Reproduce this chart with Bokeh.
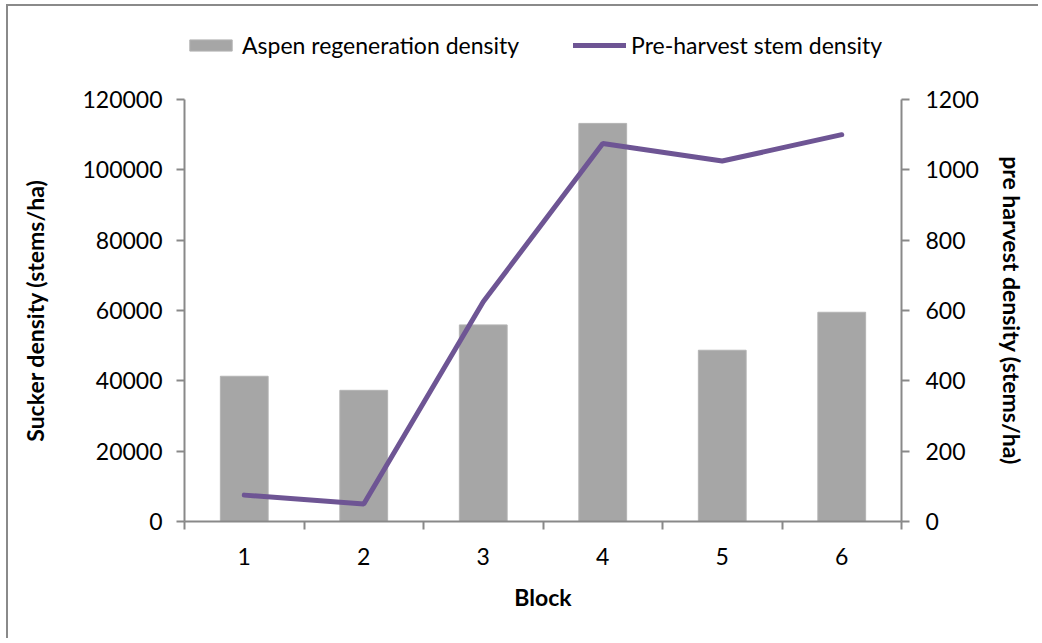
from bokeh.plotting import figure
from bokeh.layouts import column
from bokeh.models import (Range1d, LinearAxis, FixedTicker, NumeralTickFormatter,
                          Legend, LegendItem)
from bokeh.embed import file_html
from bokeh.resources import INLINE

blocks = [1, 2, 3, 4, 5, 6]
block_labels = ["1", "2", "3", "4", "5", "6"]
aspen_density = [41300, 37300, 55900, 113200, 48700, 59500]
preharvest_density = [75, 50, 625, 1075, 1025, 1100]
left_ticks = [0, 20000, 40000, 60000, 80000, 100000, 120000]
right_ticks = [0, 200, 400, 600, 800, 1000, 1200]

FONT = "Lato"
AX = "#898989"
BAR = "#A6A6A6"
BAR_EDGE = "#B4B4B4"
LINE = "#6E5594"
W = 1030
LEG_H = 60
MAIN_H = 572

p = figure(width=W, height=MAIN_H, output_backend="svg", toolbar_location=None,
           x_range=Range1d(0.5, 6.5), y_range=Range1d(0, 120000),
           min_border_left=176, min_border_right=137, min_border_top=33,
           min_border_bottom=117, outline_line_color=None)
p.xgrid.visible = False
p.ygrid.visible = False
p.extra_y_ranges = {"right": Range1d(0, 1200)}

p.vbar(x=blocks, top=aspen_density, width=0.4, fill_color=BAR,
       line_color=BAR_EDGE, line_width=1)
p.line(x=blocks, y=preharvest_density, y_range_name="right",
       line_color=LINE, line_width=5, line_cap="round")

def style_axis(ax):
    ax.axis_line_color = AX
    ax.axis_line_width = 2
    ax.major_tick_line_color = AX
    ax.major_tick_line_width = 2
    ax.major_tick_in = 0
    ax.major_tick_out = 8
    ax.minor_tick_line_color = None
    ax.major_label_text_font = FONT
    ax.major_label_text_font_size = "23px"
    ax.major_label_text_color = "black"
    ax.axis_label_text_font = FONT
    ax.axis_label_text_font_size = "23px"
    ax.axis_label_text_font_style = "bold"
    ax.axis_label_text_color = "black"

# x axis: labels at centres, ticks at block boundaries
xa = p.xaxis[0]
style_axis(xa)
xa.ticker = FixedTicker(ticks=blocks, minor_ticks=[b - 0.5 for b in blocks] + [blocks[-1] + 0.5])
xa.major_label_overrides = {b: l for b, l in zip(blocks, block_labels)}
xa.major_tick_out = 0
xa.minor_tick_line_color = AX
xa.minor_tick_line_width = 2
xa.minor_tick_in = 0
xa.minor_tick_out = 8
xa.major_label_standoff = 18
xa.axis_label = "Block"
xa.axis_label_standoff = 15

ya = p.yaxis[0]
style_axis(ya)
ya.ticker = FixedTicker(ticks=left_ticks)
ya.formatter = NumeralTickFormatter(format="0")
ya.major_label_standoff = 14
ya.axis_label = "Sucker density (stems/ha)"
ya.axis_label_standoff = 30

yr = LinearAxis(y_range_name="right", ticker=FixedTicker(ticks=right_ticks),
                formatter=NumeralTickFormatter(format="0"))
style_axis(yr)
yr.major_label_standoff = 16
yr.axis_label = "pre harvest density (stems/ha)"
yr.axis_label_standoff = 16
p.add_layout(yr, "right")

# Legend strip above the chart: same series, ranges set so the marks fall outside the view
lf = figure(width=W, height=LEG_H, output_backend="svg", toolbar_location=None,
            x_range=Range1d(0.5, 6.5), y_range=Range1d(1e9, 2e9), min_border=0,
            outline_line_color=None, x_axis_type=None, y_axis_type=None)
lf.xgrid.visible = False
lf.ygrid.visible = False
leg_bar = lf.vbar(x=blocks, top=aspen_density, width=0.4, fill_color=BAR, line_color=BAR_EDGE)
leg_line = lf.line(x=blocks, y=preharvest_density, line_color=LINE, line_width=5,
                   line_cap="round")
legend = Legend(items=[LegendItem(label="Aspen regeneration density", renderers=[leg_bar]),
                       LegendItem(label="Pre-harvest stem density", renderers=[leg_line])],
                orientation="horizontal", location=(0, 7),
                border_line_color=None, background_fill_alpha=0,
                label_text_font=FONT, label_text_font_size="23px",
                label_text_color="black",
                glyph_width=53, glyph_height=14, label_standoff=5,
                spacing=54, padding=0, margin=0)
lf.add_layout(legend, "center")

layout = column(lf, p, spacing=0,
                styles={"border-left": "2px solid #8a8a8a", "border-top": "2px solid #8a8a8a",
                        "margin-left": "6px", "margin-top": "4px"})

open("out.html", "w").write(file_html(layout, INLINE))
